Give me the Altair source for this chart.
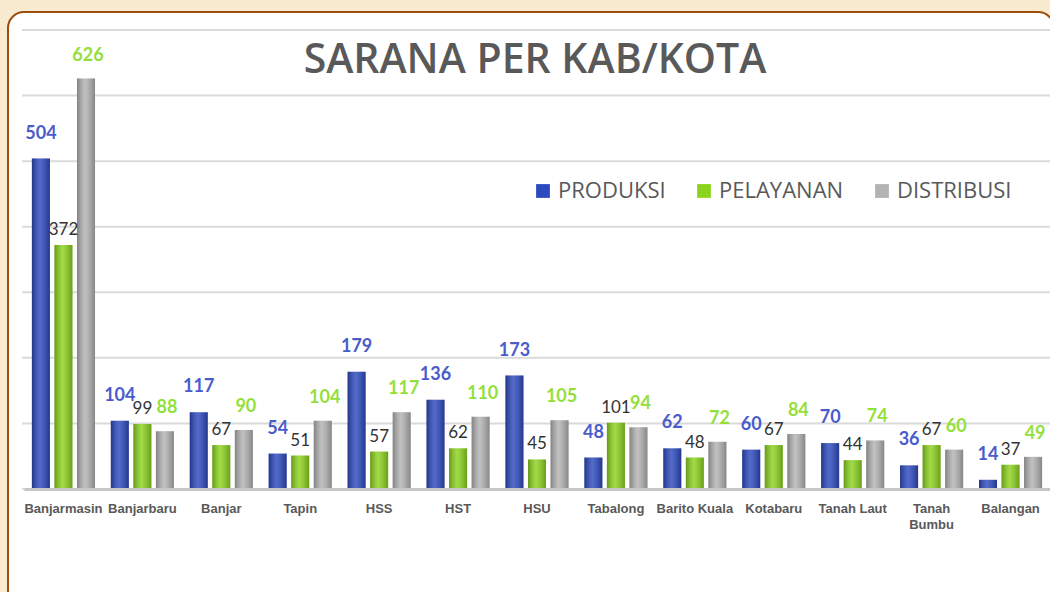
import altair as alt
import pandas as pd

categories = ["Banjarmasin", "Banjarbaru", "Banjar", "Tapin", "HSS", "HST", "HSU",
              "Tabalong", "Barito Kuala", "Kotabaru", "Tanah Laut", "Tanah Bumbu", "Balangan"]
series = ["PRODUKSI", "PELAYANAN", "DISTRIBUSI"]
produksi = [504, 104, 117, 54, 179, 136, 173, 48, 62, 60, 70, 36, 14]
pelayanan = [372, 99, 67, 51, 57, 62, 45, 101, 48, 67, 44, 67, 37]
distribusi = [626, 88, 90, 104, 117, 110, 105, 94, 72, 84, 74, 60, 49]
grid_values = [0, 100, 200, 300, 400, 500, 600, 700]
title_text = "SARANA  PER KAB/KOTA"

bar_colors = ["#2c49be", "#8cd31e", "#b3b3b3"]
label_colors = ["#4a5ccc", "#333333", "#93e03a"]

rows = []
for s, vals in zip(series, [produksi, pelayanan, distribusi]):
    for c, v in zip(categories, vals):
        rows.append({"kab": c, "seri": s, "nilai": v})
df = pd.DataFrame(rows)

W, H = 1026, 459
yscale = alt.Scale(domain=[0, 700])

# decorative panel behind everything
panel = alt.Chart(pd.DataFrame({"a": [0]})).mark_rect(
    fill="white", stroke="#9b4e0e", strokeWidth=2, cornerRadius=16
).encode(x=alt.value(-16), x2=alt.value(1030), y=alt.value(-18), y2=alt.value(640))

grid = alt.Chart(pd.DataFrame({"g": grid_values})).mark_rule(
    color="#dadada", strokeWidth=2
).encode(y=alt.Y("g:Q", scale=yscale, axis=None),
         x=alt.value(-2), x2=alt.value(W + 10))

base = alt.Chart(df).encode(
    x=alt.X("kab:N", sort=categories,
            scale=alt.Scale(paddingInner=0.2, paddingOuter=0.1),
            axis=alt.Axis(title=None, labelAngle=0, ticks=False, grid=False, zindex=1,
                          domainColor="#c6c6c6", domainWidth=3,
                          labelFont="Liberation Sans", labelFontWeight="bold",
                          labelFontSize=13, labelColor="#595959", labelPadding=13,
                          labelLineHeight=16,
                          labelExpr="datum.value == 'Tanah Bumbu' ? ['Tanah', 'Bumbu'] : datum.value")),
    xOffset=alt.XOffset("seri:N", sort=series, scale=alt.Scale(paddingInner=0.2)),
    y=alt.Y("nilai:Q", scale=yscale, axis=None),
)

bars = base.mark_bar().encode(
    color=alt.Color("seri:N", sort=series,
                    scale=alt.Scale(domain=series, range=bar_colors),
                    legend=alt.Legend(title=None, orient="none", legendX=508, legendY=150,
                                      direction="horizontal", symbolType="square",
                                      symbolSize=190, symbolStrokeWidth=0,
                                      labelFont="Open Sans", labelFontSize=22,
                                      labelColor="#595959", columnPadding=27,
                                      labelOffset=4)),
)

shade = base.mark_bar(
    color=alt.Gradient(gradient="linear", x1=0, x2=1, y1=0, y2=0,
                       stops=[alt.GradientStop(color="rgba(0,0,0,0.28)", offset=0),
                              alt.GradientStop(color="rgba(255,255,255,0.18)", offset=0.45),
                              alt.GradientStop(color="rgba(0,0,0,0.25)", offset=1)])
)

lbl_prod = base.transform_filter(alt.datum.seri == "PRODUKSI").mark_text(
    baseline="bottom", dy=-16, font="Lato", fontWeight="bold", fontSize=18, color=label_colors[0]
).encode(text="nilai:Q")
lbl_pel = base.transform_filter(alt.datum.seri == "PELAYANAN").mark_text(
    baseline="bottom", dy=-6, font="Lato", fontSize=17, color=label_colors[1]
).encode(text="nilai:Q")
lbl_dist = base.transform_filter(alt.datum.seri == "DISTRIBUSI").mark_text(
    baseline="bottom", dy=-14, dx=2, font="Lato", fontWeight="bold", fontSize=18, color=label_colors[2]
).encode(text="nilai:Q")

title = alt.Chart(pd.DataFrame({"t": [title_text]})).mark_text(
    font="Open Sans", fontWeight=600, fontSize=41, color="#595959",
    align="center", baseline="alphabetic"
).encode(x=alt.value(511), y=alt.value(43), text="t:N")

chart = alt.layer(panel, grid, bars, shade, lbl_prod, lbl_pel, lbl_dist, title).properties(
    width=W, height=H,
    padding={"left": 24, "top": 30, "right": 0, "bottom": 103},
    autosize=alt.AutoSizeParams(type="none"),
).configure(background="#f8ebcf").configure_view(strokeWidth=0)

chart.save("out.html", embed_options={"renderer": "svg", "actions": False})
